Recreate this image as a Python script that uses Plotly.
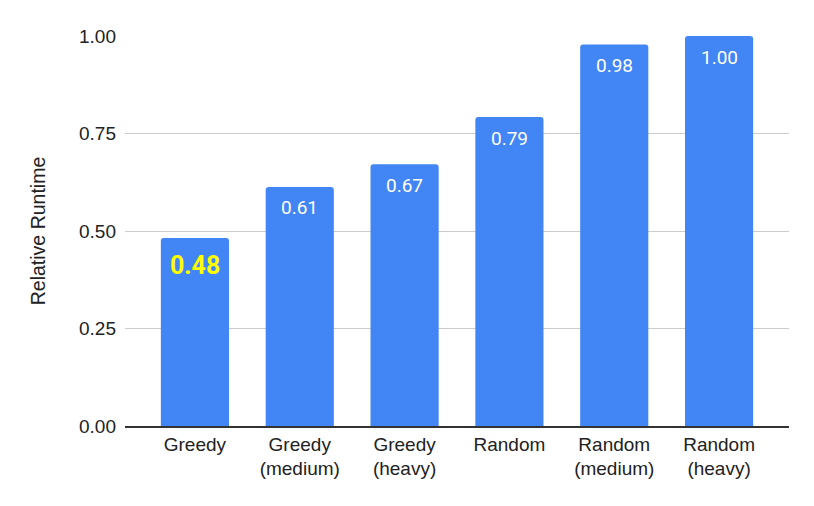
import plotly.graph_objects as go

# --- Data ---
categories = [
    "Greedy",
    "Greedy<br>(medium)",
    "Greedy<br>(heavy)",
    "Random",
    "Random<br>(medium)",
    "Random<br>(heavy)",
]
runtime = [0.482, 0.613, 0.671, 0.792, 0.978, 1.00]
labels = ["0.48", "0.61", "0.67", "0.79", "0.98", "1.00"]
y_ticks = [0, 0.25, 0.5, 0.75, 1.0]
y_tick_labels = ["0.00", "0.25", "0.50", "0.75", "1.00"]

bar_color = "#4285F4"
font_family = "Liberation Sans, Arial, sans-serif"

fig = go.Figure()
fig.add_trace(
    go.Bar(
        x=categories,
        y=runtime,
        width=0.65,
        marker=dict(color=bar_color, line=dict(width=0), cornerradius=3),
        showlegend=False,
        hoverinfo="skip",
    )
)

# value labels inside the top of each bar (first one highlighted)
for i, (cat, val, lab) in enumerate(zip(categories, runtime, labels)):
    highlight = i == 0
    fig.add_annotation(
        x=cat,
        y=val,
        text=f"<b>{lab}</b>" if highlight else lab,
        showarrow=False,
        yanchor="middle",
        yshift=-27 if highlight else -21,
        font=dict(
            family="Roboto, sans-serif",
            size=25 if highlight else 19,
            color="#FFFF00" if highlight else "#FFFFFF",
        ),
    )

# page body adds an 8px offset, so margins are shifted to compensate
fig.update_layout(
    width=814,
    height=506,
    margin=dict(l=117, r=33, t=28, b=88, autoexpand=False),
    plot_bgcolor="white",
    paper_bgcolor="white",
    font=dict(family=font_family, size=19, color="#222222"),
    xaxis=dict(
        range=[-0.667, 5.667],
        automargin=False,
        showgrid=False,
        showline=True,
        linecolor="#333333",
        linewidth=1.5,
        ticks="",
        tickfont=dict(size=19, color="#222222"),
    ),
    yaxis=dict(
        title=dict(text="Relative Runtime", standoff=28, font=dict(size=19.5)),
        automargin=False,
        range=[0, 1.0],
        tickvals=y_ticks,
        ticktext=y_tick_labels,
        showgrid=True,
        gridcolor="#CCCCCC",
        gridwidth=1,
        zeroline=False,
        ticks="",
        ticklabelstandoff=8,
        tickfont=dict(size=19, color="#222222"),
    ),
)

fig.write_html("out.html")
